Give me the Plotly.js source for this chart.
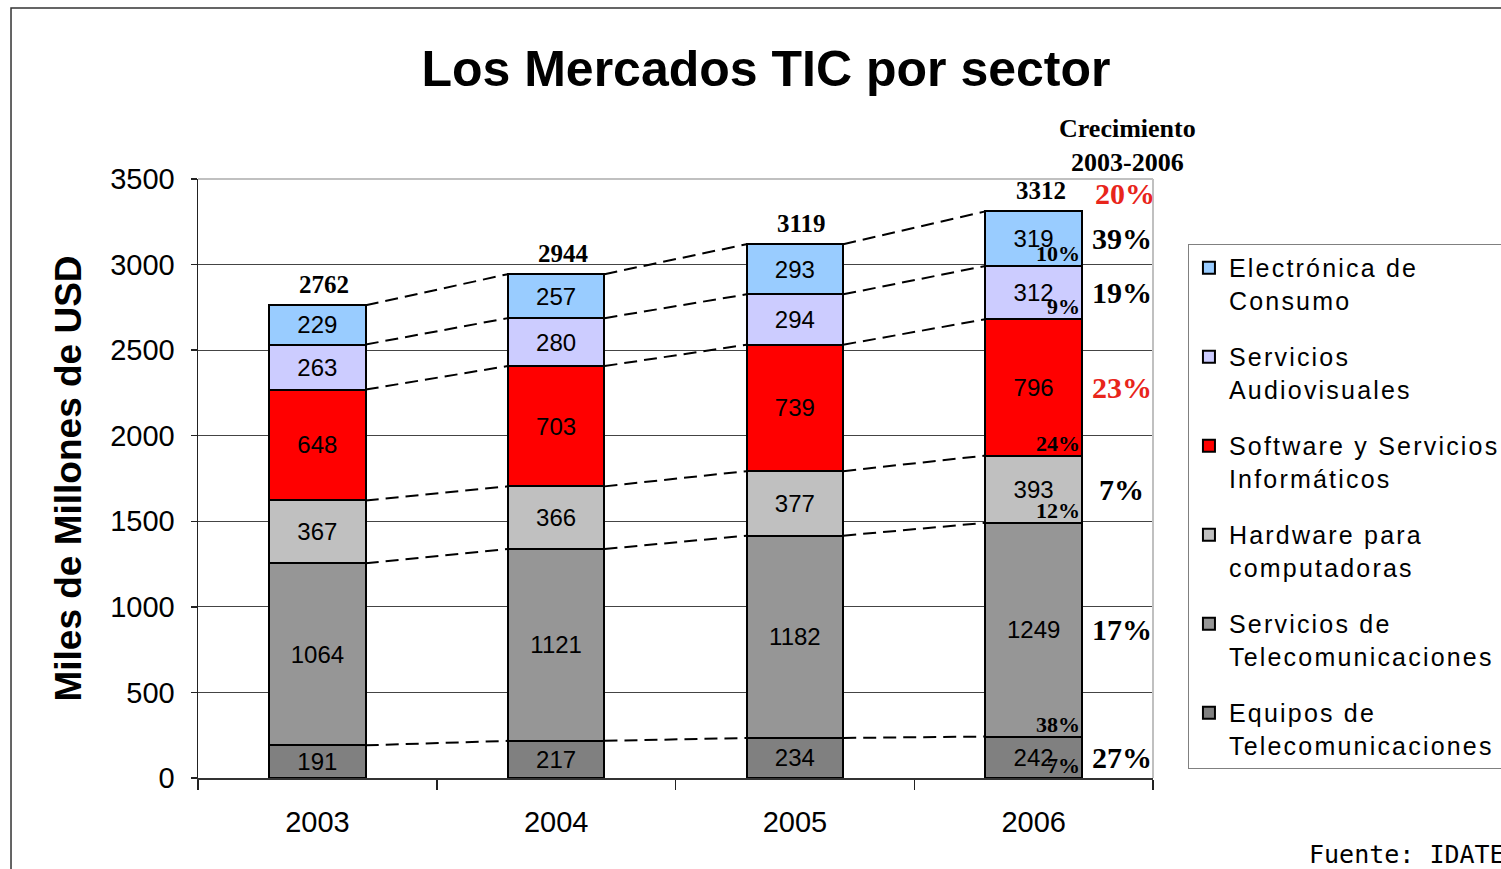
<!DOCTYPE html>
<html>
<head>
<meta charset="utf-8">
<script src="https://cdn.plot.ly/plotly-3.0.1.min.js"></script>
<style>
  html, body { margin: 0; padding: 0; background: #fff; }
  #chart { width: 1501px; height: 869px; }
  .legendtext { letter-spacing: 2.2px; }
</style>
</head>
<body>
<div id="chart"></div>
<script>
// ---- data ----
const years = ['2003', '2004', '2005', '2006'];

// series, from the bottom of the stack to the top
const equiposTelecom   = [191, 217, 234, 242];
const serviciosTelecom = [1064, 1121, 1182, 1249];
const hardware         = [367, 366, 377, 393];
const software         = [648, 703, 739, 796];
const audiovisuales    = [263, 280, 294, 312];
const electronica      = [229, 257, 293, 319];

const totals = [2762, 2944, 3119, 3312];

// growth 2003-2006, bottom to top, and total
const growthPct = ['27%', '17%', '7%', '23%', '19%', '39%'];
const growthTotal = '20%';
// share of each sector in 2006, bottom to top
const share2006 = ['7%', '38%', '12%', '24%', '9%', '10%'];

const seriesNames = [
  'Equipos de<br>Telecomunicaciones',
  'Servicios de<br>Telecomunicaciones',
  'Hardware para<br>computadoras',
  'Software y Servicios<br>Informáticos',
  'Servicios<br>Audiovisuales',
  'Electrónica de<br>Consumo'
];
const seriesValues = [equiposTelecom, serviciosTelecom, hardware, software, audiovisuales, electronica];

// ---- styles ----
const colors = ['#808080', '#969696', '#C0C0C0', '#FF0000', '#CCCCFF', '#99CCFF'];
const growthColors = ['#000', '#000', '#000', '#E8251B', '#000', '#000'];
const SANS = 'Liberation Sans, Arial, sans-serif';
const SERIF = 'Liberation Serif, Times New Roman, serif';
const BAR_W = 0.405;

const traces = [];
seriesValues.forEach((vals, k) => {
  traces.push({
    type: 'bar',
    x: years,
    y: vals,
    name: seriesNames[k],
    legendgroup: 'g' + k,
    legendrank: (seriesValues.length - k) * 10,
    width: BAR_W,
    marker: { color: colors[k], line: { color: '#000', width: 2 } },
    texttemplate: '%{y}',
    textposition: 'inside',
    insidetextanchor: 'middle',
    textangle: 0,
    constraintext: 'none',
    textfont: { family: SANS, size: 24, color: '#000' },
    hoverinfo: 'x+y+name'
  });
});

// cumulative tops of each stacked segment
const cum = [];
seriesValues.forEach((vals, k) => {
  cum.push(vals.map((v, i) => v + (k > 0 ? cum[k - 1][i] : 0)));
});

// dashed connectors between bar edges
cum.forEach((tops, k) => {
  const xs = [], ys = [];
  for (let i = 0; i < years.length - 1; i++) {
    xs.push(i + BAR_W / 2, i + 1 - BAR_W / 2, null);
    ys.push(tops[i], tops[i + 1], null);
  }
  traces.push({
    type: 'scatter', mode: 'lines', xaxis: 'x2', yaxis: 'y',
    x: xs, y: ys, showlegend: false, hoverinfo: 'skip',
    line: { color: '#000', width: 2, dash: '13px,7px' }
  });
});

const annotations = [];
// totals above the bars
totals.forEach((t, i) => {
  annotations.push({
    xref: 'x2', yref: 'y', x: i, y: t, xshift: 7, yshift: 21,
    xanchor: 'center', yanchor: 'middle', showarrow: false,
    text: '<b>' + t + '</b>', font: { family: SERIF, size: 25, color: '#000' }
  });
});
// growth column
const last = years.length - 1;
seriesValues.forEach((vals, k) => {
  const mid = cum[k][last] - vals[last] / 2;
  annotations.push({
    xref: 'x2', yref: 'y', x: last, y: mid, xshift: 88,
    xanchor: 'center', yanchor: 'middle', showarrow: false,
    text: '<b>' + growthPct[k] + '</b>', font: { family: SERIF, size: 30, color: growthColors[k] }
  });
  // share inside the 2006 bar
  annotations.push({
    xref: 'x2', yref: 'y', x: last + BAR_W / 2, y: cum[k][last] - vals[last],
    xanchor: 'right', yanchor: 'bottom', showarrow: false, yshift: -2,
    text: '<b>' + share2006[k] + '</b>', font: { family: SERIF, size: 22, color: '#000' }
  });
});
annotations.push({
  xref: 'x2', yref: 'y', x: last, y: totals[last], xshift: 91, yshift: 18,
  xanchor: 'center', yanchor: 'middle', showarrow: false,
  text: '<b>' + growthTotal + '</b>', font: { family: SERIF, size: 30, color: '#E8251B' }
});
annotations.push({
  xref: 'x2', yref: 'paper', x: last, y: 1.056, xshift: 94,
  xanchor: 'center', yanchor: 'middle', showarrow: false,
  text: '<b>Crecimiento<br>2003-2006</b>', font: { family: SERIF, size: 26, color: '#000' }
});
annotations.push({
  xref: 'paper', yref: 'paper', x: 1.161, y: -0.1285,
  xanchor: 'left', yanchor: 'middle', showarrow: false,
  text: 'Fuente: IDATE', font: { family: 'DejaVu Sans Mono, monospace', size: 25, color: '#000' }
});

const layout = {
  width: 1501, height: 869,
  margin: { l: 198, r: 348, t: 179, b: 91, autoexpand: false },
  paper_bgcolor: '#fff', plot_bgcolor: '#fff',
  barmode: 'stack',
  showlegend: true,
  title: {
    text: 'Los Mercados TIC por sector',
    font: { family: SANS, size: 50, color: '#000', weight: 'bold' },
    x: 0.5103, xref: 'container', xanchor: 'center',
    y: 0.921, yref: 'container', yanchor: 'middle'
  },
  xaxis: {
    type: 'category', categoryorder: 'array', categoryarray: years,
    range: [-0.5, 3.5], tickson: 'boundaries',
    ticks: 'outside', ticklen: 10, tickwidth: 1.5, tickcolor: '#222',
    showline: true, linecolor: '#333', linewidth: 1.5,
    showgrid: false, ticklabelstandoff: 18,
    tickfont: { family: SANS, size: 29, color: '#000' }
  },
  xaxis2: {
    overlaying: 'x', anchor: 'y', range: [-0.5, 3.5], visible: false,
    fixedrange: true
  },
  yaxis: {
    range: [0, 3500], dtick: 500, tick0: 0,
    ticks: 'outside', ticklen: 6, tickwidth: 1.5, tickcolor: '#222',
    showline: true, linecolor: '#222', linewidth: 1.5,
    showgrid: true, gridcolor: '#444', gridwidth: 1,
    zeroline: false, ticklabelstandoff: 10,
    tickfont: { family: SANS, size: 29, color: '#000' },
    title: {
      text: 'Miles de Millones de USD',
      font: { family: SANS, size: 37, color: '#000', weight: 'bold' },
      standoff: 17
    }
  },
  legend: {
    x: 1.0366, xanchor: 'left', y: 0.8915, yanchor: 'top',
    bordercolor: '#808080', borderwidth: 1, bgcolor: '#fff',
    font: { family: SANS, size: 25, color: '#000' },
    valign: 'top', traceorder: 'grouped', tracegroupgap: 21
  },
  shapes: [
    // plot area top & right borders (light gray)
    { type: 'line', xref: 'paper', yref: 'paper', x0: 0, x1: 1, y0: 1, y1: 1,
      line: { color: '#C0C0C0', width: 2 } },
    { type: 'line', xref: 'paper', yref: 'paper', x0: 1, x1: 1, y0: 0, y1: 1,
      line: { color: '#C0C0C0', width: 2 } },
    // outer chart frame
    { type: 'rect', xref: 'paper', yref: 'paper', x0: -0.1958, x1: 1.7, y0: -0.6, y1: 1.2855,
      line: { color: '#333', width: 1.5 }, layer: 'below' }
  ],
  annotations: annotations
};

Plotly.newPlot('chart', traces, layout, { displayModeBar: false, staticPlot: true });
</script>
</body>
</html>
